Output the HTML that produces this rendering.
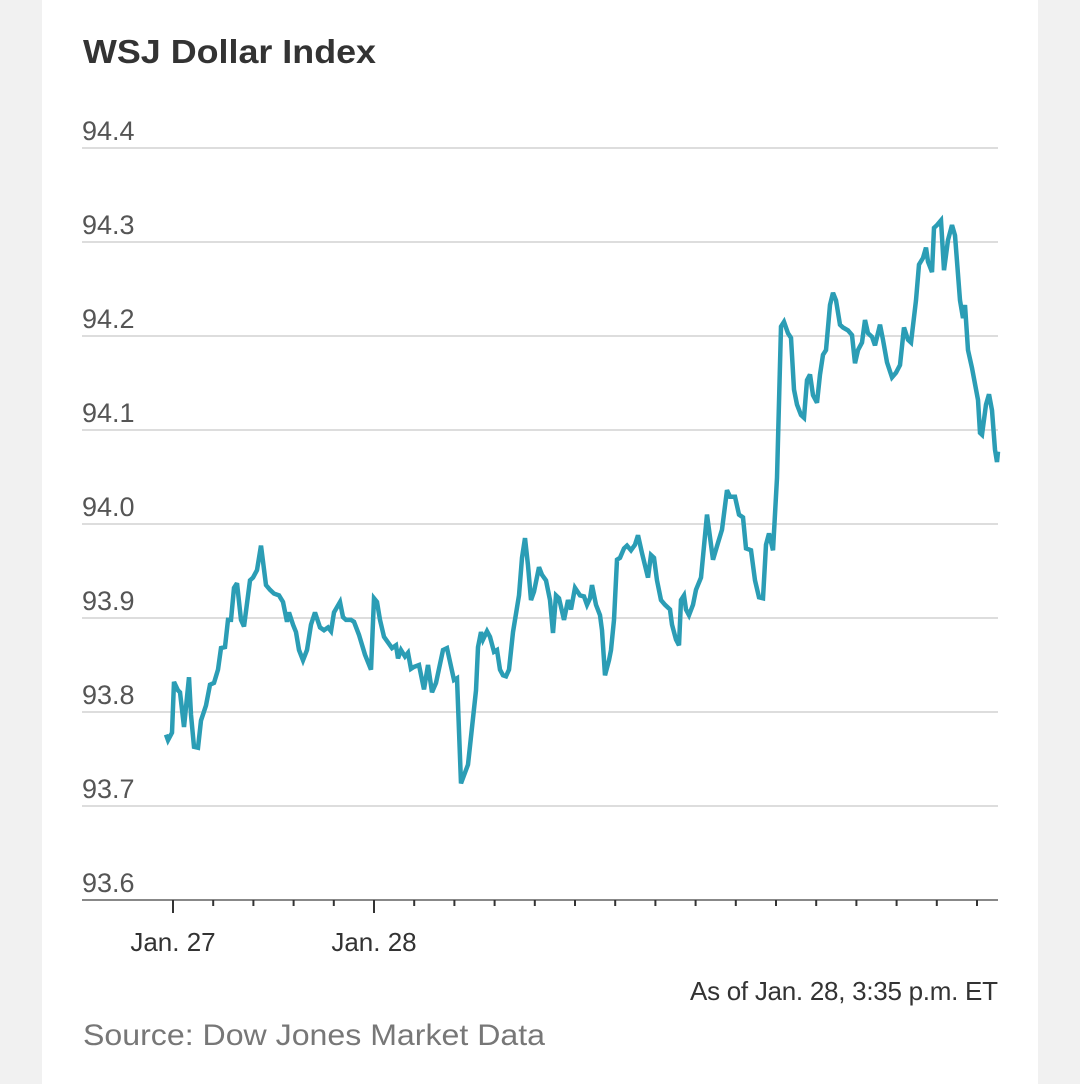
<!DOCTYPE html>
<html><head><meta charset="utf-8"><style>
html,body{margin:0;padding:0;background:#f1f1f1;}
#wrap{position:relative;width:1080px;height:1084px;overflow:hidden;background:#f1f1f1;}
#panel{position:absolute;left:42px;top:0;width:996px;height:1084px;background:#fff;}
svg{position:absolute;left:0;top:0;}
text{font-family:"Liberation Sans",sans-serif;}
</style></head><body>
<div id="wrap">
<div id="panel"></div>
<svg id="chart" width="1080" height="1084">
<text x="83" y="63" font-size="33" font-weight="bold" fill="#333" textLength="293" lengthAdjust="spacingAndGlyphs">WSJ Dollar Index</text>
<g id="grid"></g><g id="ticks"></g><g id="series"></g>
<text x="998" y="1000" font-size="26" fill="#333" text-anchor="end" textLength="308">As of Jan. 28, 3:35 p.m. ET</text>
<text x="83" y="1045" font-size="30" fill="#777" textLength="462" lengthAdjust="spacingAndGlyphs">Source: Dow Jones Market Data</text>
</svg>
</div>
<script>
const yTicks=[93.6,93.7,93.8,93.9,94.0,94.1,94.2,94.3,94.4];
const yTickLabels=["93.6","93.7","93.8","93.9","94.0","94.1","94.2","94.3","94.4"];
const xTickHours=[0,4.8,9.6,14.4,19.2,24,28.8,33.6,38.4,43.2,48,52.8,57.6,62.4,67.2,72,76.8,81.6,86.4,91.2,96];
const xLabelHours=[0,24];
const xLabels=["Jan. 27","Jan. 28"];
const hours=[-0.84,-0.6,-0.12,0.12,0.6,0.84,1.31,1.91,2.15,2.51,2.99,3.34,3.94,4.42,4.9,5.37,5.73,6.21,6.57,6.93,7.28,7.64,8.12,8.48,9.19,9.55,10.03,10.51,11.1,11.58,12.06,12.66,13.13,13.61,13.85,14.33,14.69,15.04,15.52,16,16.48,16.96,17.55,18.03,18.51,18.87,19.22,19.94,20.3,20.66,21.25,21.61,22.21,22.93,23.64,24,24.36,24.72,25.19,25.67,26.15,26.63,26.87,27.22,27.7,28.06,28.42,28.78,29.37,29.97,30.45,30.93,31.4,32.24,32.72,33.55,33.91,34.39,35.22,36.18,36.42,36.78,37.01,37.49,37.85,38.33,38.69,39.04,39.4,39.76,40.12,40.6,41.31,41.67,42.03,42.39,42.75,43.1,43.7,44.06,44.54,45.01,45.37,45.73,46.09,46.69,47.16,47.52,48,48.6,49.07,49.43,49.79,50.03,50.51,50.99,51.22,51.58,52.06,52.3,52.66,53.01,53.37,53.85,54.21,54.69,55.16,55.52,56,56.72,57.07,57.43,57.79,58.27,58.75,59.34,59.58,60.06,60.42,60.66,61.01,61.25,61.61,62.09,62.45,63.04,63.76,64.48,65.07,65.55,66.15,66.51,67.1,67.58,68.06,68.42,69.01,69.49,69.97,70.45,70.81,71.16,71.64,72.12,72.6,72.96,73.43,73.79,74.15,74.51,74.99,75.34,75.7,76.06,76.42,76.9,77.25,77.61,77.97,78.45,78.81,79.16,79.64,80,80.6,81.07,81.43,81.79,82.27,82.63,82.99,83.46,83.82,84.42,84.78,85.25,85.85,86.33,86.81,87.28,87.76,88.12,88.72,89.07,89.55,89.91,90.15,90.63,90.87,91.22,91.7,92.06,92.54,93.01,93.37,93.97,94.33,94.57,94.93,95.4,96.12,96.36,96.6,97.07,97.43,97.79,98.15,98.39,98.51];
const values=[93.776,93.770,93.778,93.832,93.823,93.821,93.784,93.837,93.797,93.763,93.762,93.791,93.807,93.829,93.831,93.845,93.868,93.869,93.898,93.898,93.932,93.937,93.898,93.891,93.940,93.943,93.951,93.977,93.935,93.930,93.926,93.924,93.917,93.896,93.906,93.893,93.885,93.866,93.855,93.866,93.893,93.906,93.890,93.887,93.890,93.886,93.906,93.917,93.901,93.898,93.898,93.896,93.882,93.861,93.845,93.921,93.917,93.898,93.880,93.874,93.868,93.871,93.857,93.866,93.859,93.863,93.846,93.848,93.850,93.824,93.850,93.821,93.831,93.866,93.868,93.834,93.836,93.724,93.744,93.823,93.869,93.885,93.877,93.886,93.880,93.864,93.866,93.845,93.839,93.838,93.845,93.885,93.924,93.964,93.985,93.956,93.919,93.928,93.954,93.946,93.940,93.919,93.884,93.924,93.921,93.898,93.919,93.909,93.932,93.924,93.923,93.914,93.921,93.935,93.914,93.903,93.887,93.839,93.855,93.866,93.898,93.962,93.964,93.974,93.977,93.972,93.978,93.988,93.969,93.943,93.967,93.964,93.940,93.919,93.914,93.909,93.893,93.877,93.871,93.919,93.924,93.909,93.903,93.914,93.930,93.943,94.010,93.962,93.980,93.994,94.036,94.029,94.029,94.010,94.007,93.974,93.972,93.940,93.922,93.921,93.978,93.990,93.972,94.049,94.210,94.215,94.203,94.198,94.143,94.127,94.116,94.113,94.153,94.159,94.137,94.129,94.159,94.180,94.185,94.233,94.246,94.238,94.212,94.209,94.206,94.201,94.171,94.185,94.193,94.217,94.203,94.199,94.190,94.212,94.196,94.172,94.156,94.161,94.169,94.209,94.196,94.193,94.238,94.276,94.283,94.294,94.279,94.268,94.315,94.318,94.323,94.270,94.302,94.318,94.307,94.238,94.219,94.233,94.185,94.166,94.132,94.097,94.095,94.127,94.138,94.121,94.079,94.066,94.077];

const NS="http://www.w3.org/2000/svg";
const X0=173,XPH=8.375,Y0=900,YPV=940,VMIN=93.6;
function xs(h){return X0+h*XPH;}
function ys(v){return Y0-(v-VMIN)*YPV;}
function mk(tag,attrs,parent){const e=document.createElementNS(NS,tag);for(const k in attrs)e.setAttribute(k,attrs[k]);parent.appendChild(e);return e;}
const grid=document.getElementById('grid'),ticks=document.getElementById('ticks'),series=document.getElementById('series');
yTicks.forEach((v,i)=>{
  const y=ys(v);
  const l=mk('line',{x1:82,x2:998,y1:y,y2:y,stroke:i===0?'#888':'#ddd','stroke-width':2},grid);
  
  
  const t=mk('text',{x:82,y:y-8,'font-size':27,fill:'#555'},grid);
  t.textContent=yTickLabels[i];
  
  
});
xTickHours.forEach(h=>{
  const major=xLabelHours.indexOf(h)>=0;
  const x=xs(h);
  const l=mk('line',{x1:x,x2:x,y1:Y0,y2:Y0+(major?13:6),stroke:'#333','stroke-width':2},ticks);
  
  
});
xLabelHours.forEach((h,i)=>{
  const t=mk('text',{x:xs(h),y:951,'font-size':26,fill:'#333','text-anchor':'middle'},ticks);
  t.textContent=xLabels[i];
  
  
});
const d=hours.map((h,i)=>(i?'L':'M')+xs(h).toFixed(1)+' '+ys(values[i]).toFixed(1)).join(' ');
const p=mk('path',{d:d,fill:'none',stroke:'#2b9db5','stroke-width':4.5,'stroke-linejoin':'miter','stroke-miterlimit':3},series);


</script>
</body></html>
